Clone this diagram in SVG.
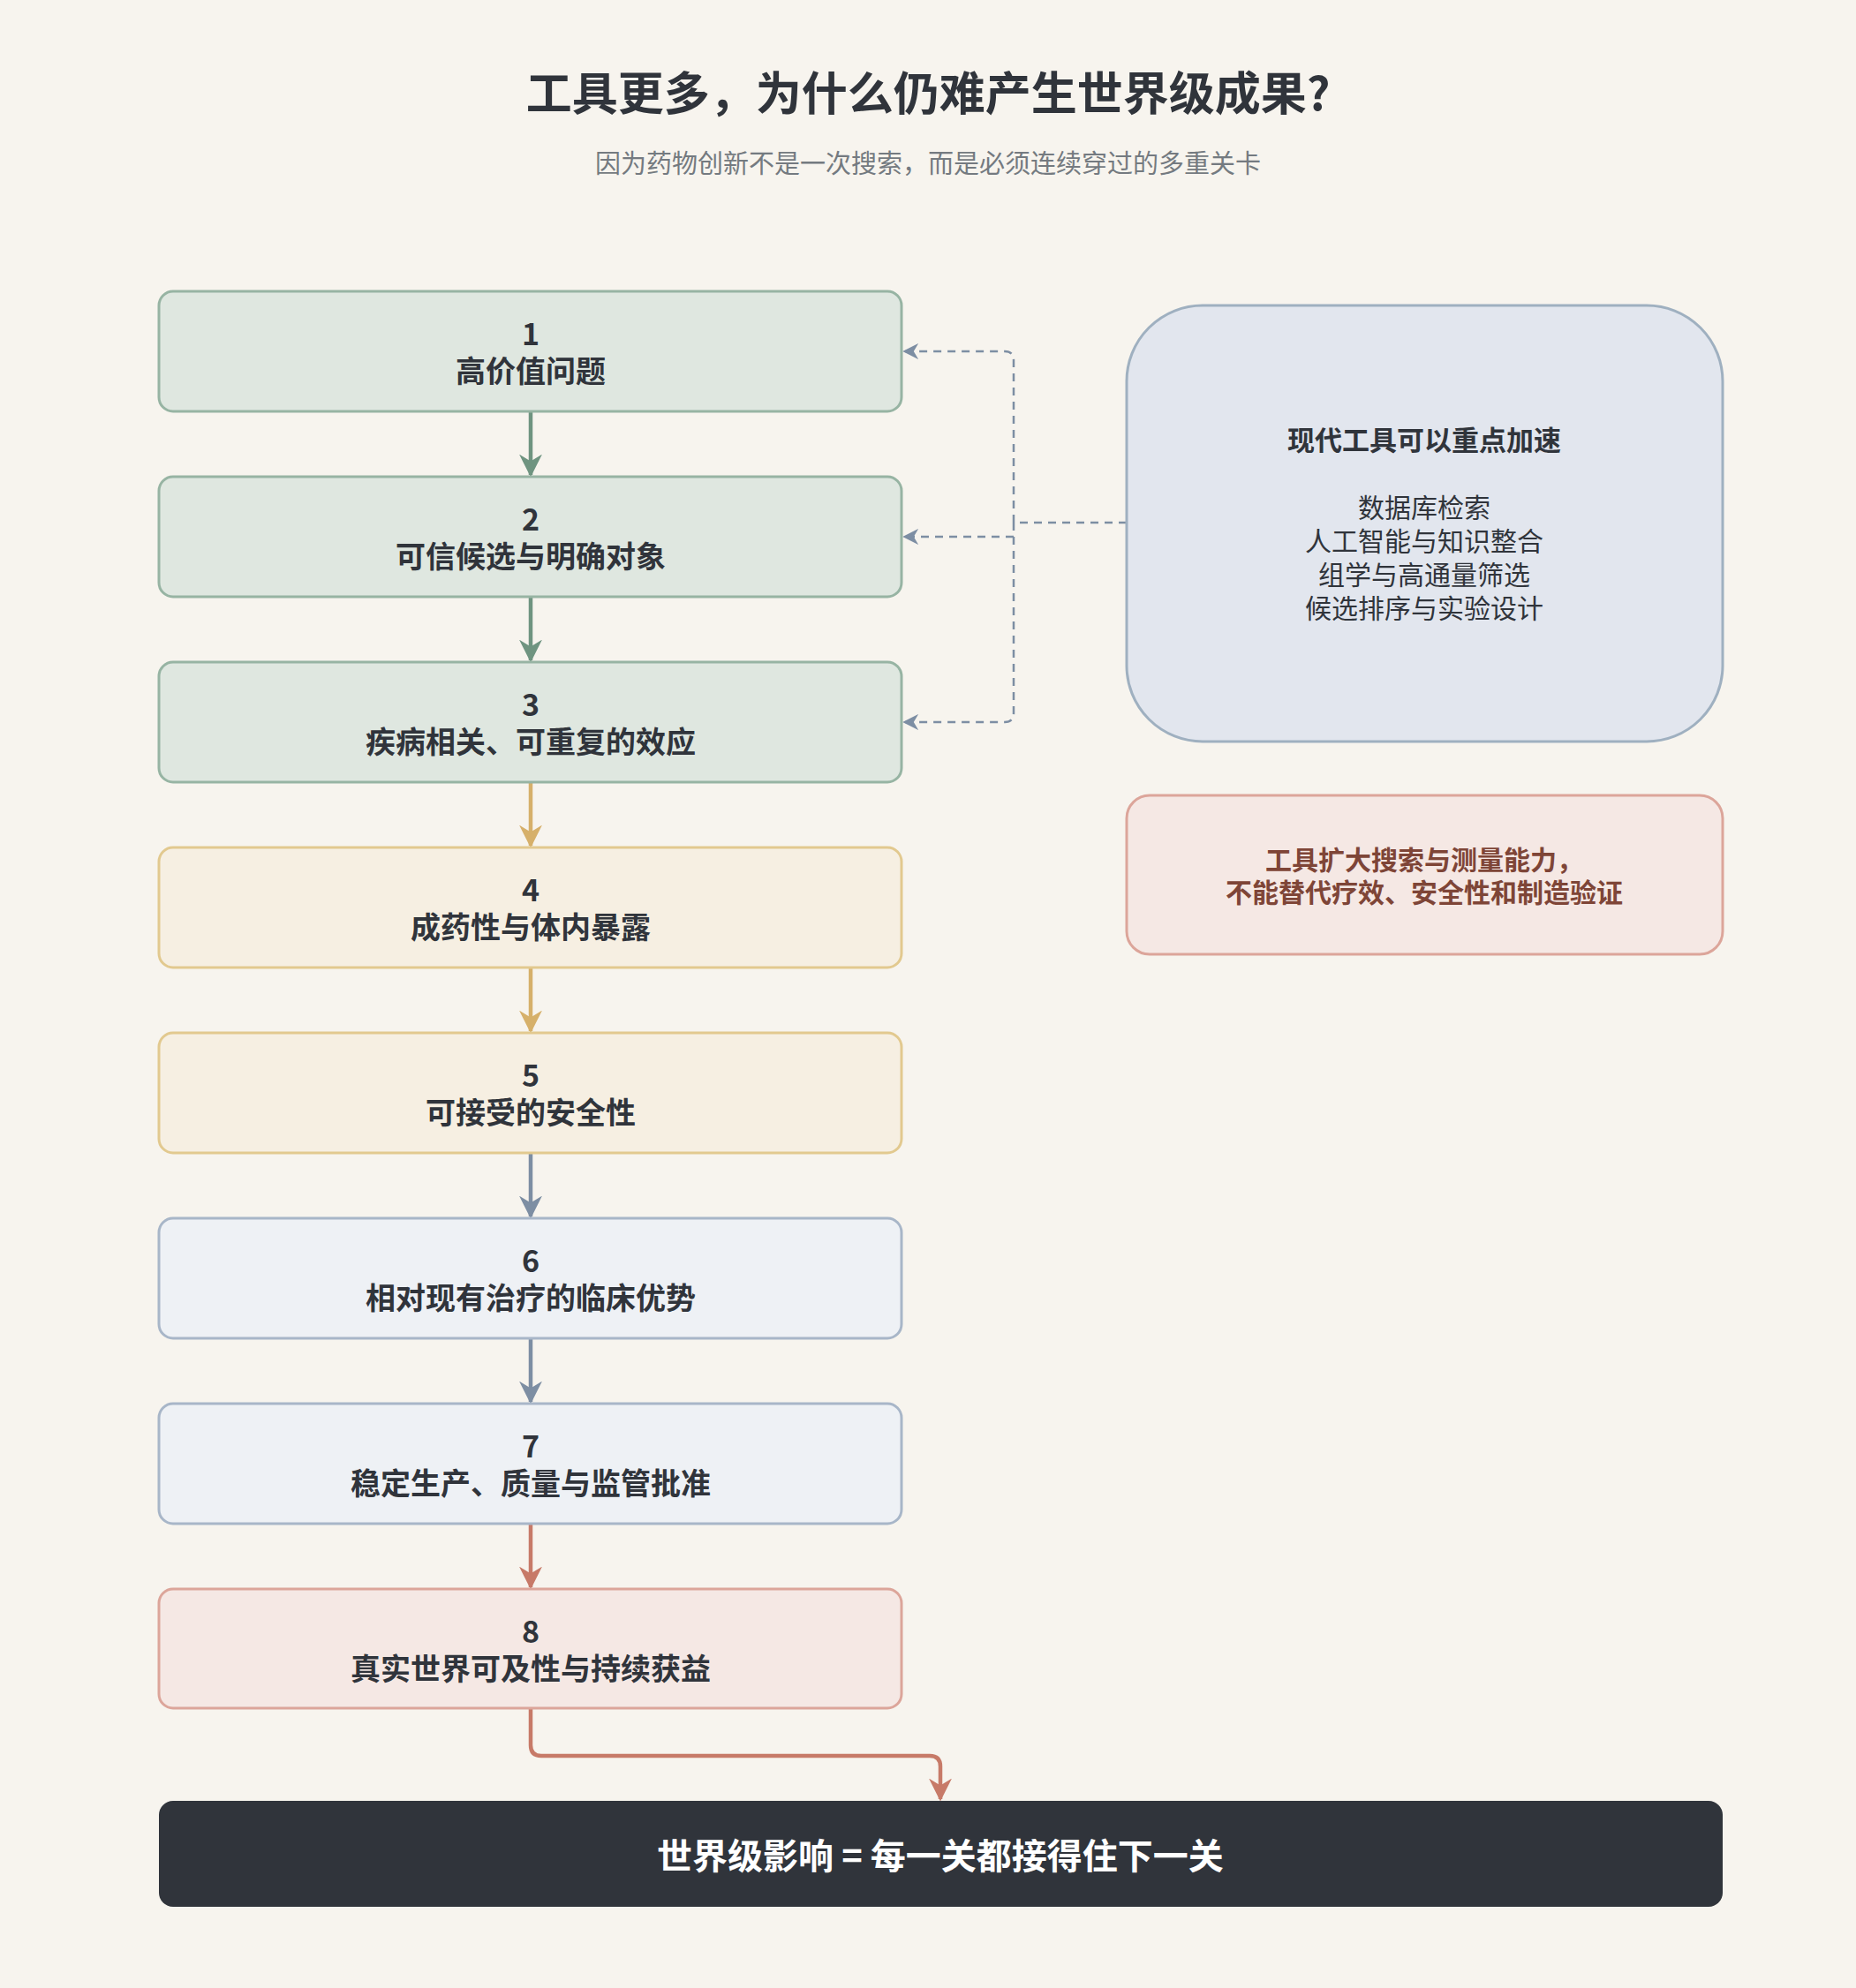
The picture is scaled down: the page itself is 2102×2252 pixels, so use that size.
<svg xmlns="http://www.w3.org/2000/svg" width="2102" height="2252" viewBox="0 0 2102 2252">
<style>
text{font-family:"Noto Sans CJK SC","Noto Sans",sans-serif;text-anchor:middle;fill:#30343b}
.n{font-size:34px;font-weight:700}
.g rect{fill:#dfe7e0;stroke:#97b4a3}
.y rect{fill:#f6efe2;stroke:#e2c98f}
.b rect{fill:#eef1f5;stroke:#a8b6c8}
.r rect{fill:#f5e8e4;stroke:#dca59a}
rect{stroke-width:3}
.c{fill:none;stroke-width:4.5}
.d{fill:none;stroke:#7d8ea3;stroke-width:2.5;stroke-dasharray:9 7}
.t{font-size:30px}
</style>
<defs>
<marker id="ay" viewBox="0 0 10 10" refX="9" refY="5" markerWidth="26" markerHeight="26" orient="auto" markerUnits="userSpaceOnUse"><path d="M0,0L10,5L0,10L3,5Z" fill="#d6b06a"/></marker>
<marker id="ab" viewBox="0 0 10 10" refX="9" refY="5" markerWidth="26" markerHeight="26" orient="auto" markerUnits="userSpaceOnUse"><path d="M0,0L10,5L0,10L3,5Z" fill="#7d8ea3"/></marker>
<marker id="ar" viewBox="0 0 10 10" refX="9" refY="5" markerWidth="26" markerHeight="26" orient="auto" markerUnits="userSpaceOnUse"><path d="M0,0L10,5L0,10L3,5Z" fill="#c77a68"/></marker>
<marker id="agg" viewBox="0 0 10 10" refX="9" refY="5" markerWidth="26" markerHeight="26" orient="auto" markerUnits="userSpaceOnUse"><path d="M0,0L10,5L0,10L3,5Z" fill="#6f9480"/></marker>
<marker id="ad" viewBox="0 0 10 10" refX="9" refY="5" markerWidth="18" markerHeight="18" orient="auto" markerUnits="userSpaceOnUse"><path d="M0,0L10,5L0,10L3,5Z" fill="#7d8ea3"/></marker>
</defs>
<rect x="0" y="0" width="2102" height="2252" fill="#f7f4ee" stroke="none"/>
<text x="1051" y="125" style="font-size:52px;font-weight:700">工具更多，为什么仍难产生世界级成果?</text>
<text x="1051" y="196" style="font-size:29px;fill:#747a80">因为药物创新不是一次搜索，而是必须连续穿过的多重关卡</text>

<g id="connectors">
<path class="c" stroke="#6f9480" d="M601,466V538" marker-end="url(#agg)"/>
<path class="c" stroke="#6f9480" d="M601,676V748" marker-end="url(#agg)"/>
<path class="c" stroke="#d6b06a" d="M601,886V958" marker-end="url(#ay)"/>
<path class="c" stroke="#d6b06a" d="M601,1096V1168" marker-end="url(#ay)"/>
<path class="c" stroke="#7d8ea3" d="M601,1306V1378" marker-end="url(#ab)"/>
<path class="c" stroke="#7d8ea3" d="M601,1516V1588" marker-end="url(#ab)"/>
<path class="c" stroke="#c77a68" d="M601,1726V1798" marker-end="url(#ar)"/>
<path class="c" stroke="#c77a68" d="M601,1935V1977Q601,1989 613,1989H1053Q1065,1989 1065,2001V2038" marker-end="url(#ar)"/>
<path class="d" d="M1276,592H1148M1148,592V408Q1148,398 1138,398H1024" marker-end="url(#ad)"/>
<path class="d" d="M1148,608H1024" marker-end="url(#ad)"/>
<path class="d" d="M1148,592V808Q1148,818 1138,818H1024" marker-end="url(#ad)"/>
</g>

<g id="n1" class="g"><rect x="180" y="330" width="841" height="136" rx="16"/><text class="n" x="601" y="391">1</text><text class="n" x="601" y="433">高价值问题</text></g>
<g id="n2" class="g"><rect x="180" y="540" width="841" height="136" rx="16"/><text class="n" x="601" y="601">2</text><text class="n" x="601" y="643">可信候选与明确对象</text></g>
<g id="n3" class="g"><rect x="180" y="750" width="841" height="136" rx="16"/><text class="n" x="601" y="811">3</text><text class="n" x="601" y="853">疾病相关、可重复的效应</text></g>
<g id="n4" class="y"><rect x="180" y="960" width="841" height="136" rx="16"/><text class="n" x="601" y="1021">4</text><text class="n" x="601" y="1063">成药性与体内暴露</text></g>
<g id="n5" class="y"><rect x="180" y="1170" width="841" height="136" rx="16"/><text class="n" x="601" y="1231">5</text><text class="n" x="601" y="1273">可接受的安全性</text></g>
<g id="n6" class="b"><rect x="180" y="1380" width="841" height="136" rx="16"/><text class="n" x="601" y="1441">6</text><text class="n" x="601" y="1483">相对现有治疗的临床优势</text></g>
<g id="n7" class="b"><rect x="180" y="1590" width="841" height="136" rx="16"/><text class="n" x="601" y="1651">7</text><text class="n" x="601" y="1693">稳定生产、质量与监管批准</text></g>
<g id="n8" class="r"><rect x="180" y="1800" width="841" height="135" rx="16"/><text class="n" x="601" y="1861">8</text><text class="n" x="601" y="1903">真实世界可及性与持续获益</text></g>

<g id="tools"><rect x="1276" y="346" width="675" height="494" rx="86" fill="#e2e6ee" stroke="#9fb0c0"/>
<text x="1613" y="510" style="font-size:31px;font-weight:700">现代工具可以重点加速</text>
<text class="t" x="1613" y="586">数据库检索</text>
<text class="t" x="1613" y="624">人工智能与知识整合</text>
<text class="t" x="1613" y="662">组学与高通量筛选</text>
<text class="t" x="1613" y="700">候选排序与实验设计</text></g>

<g id="note"><rect x="1276" y="901" width="675" height="180" rx="26" fill="#f5e8e4" stroke="#dca59a"/>
<text x="1613" y="985" style="font-size:30px;font-weight:700;fill:#7e4537">工具扩大搜索与测量能力，</text>
<text x="1613" y="1022" style="font-size:30px;font-weight:700;fill:#7e4537">不能替代疗效、安全性和制造验证</text></g>

<g id="impact"><rect x="180" y="2040" width="1771" height="120" rx="16" fill="#30343b" stroke="none"/>
<text x="1065" y="2117" style="font-size:40px;font-weight:700;fill:#ffffff">世界级影响 = 每一关都接得住下一关</text></g>
</svg>
